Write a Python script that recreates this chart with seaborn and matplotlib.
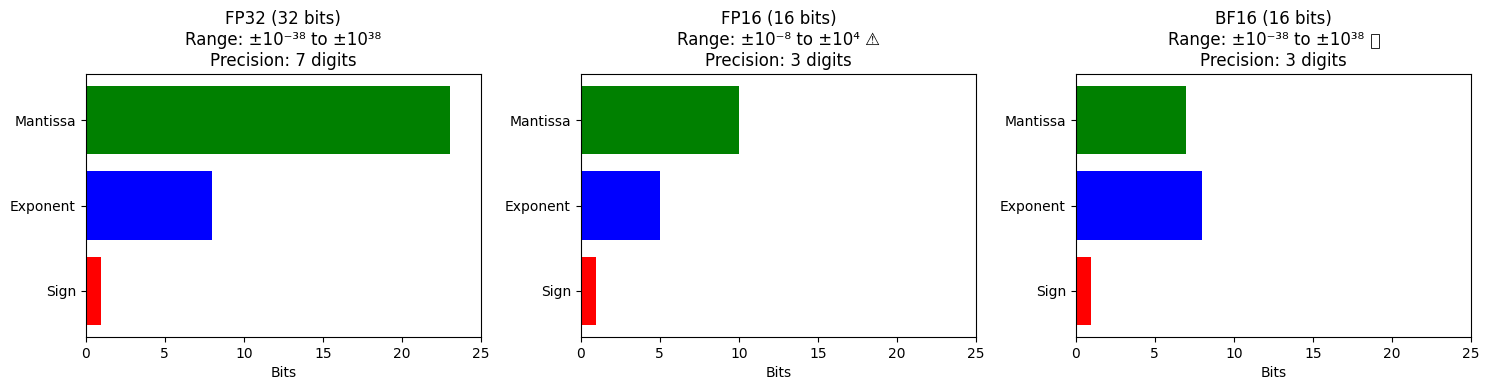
import matplotlib
matplotlib.use('Agg')
import matplotlib.pyplot as plt
from matplotlib.patches import Rectangle
import pandas as pd
import seaborn as sns

components = ['Sign', 'Exponent', 'Mantissa']
colors = ['red', 'blue', 'green']
fp32_bits = [1, 8, 23]
fp16_bits = [1, 5, 10]
bf16_bits = [1, 8, 7]
# no installed font has the check mark of the original title and the reference shows
# an empty box there: the two spaces keep the room, the box is drawn below
titles = ['FP32 (32 bits)\nRange: ±10⁻³⁸ to ±10³⁸\nPrecision: 7 digits',
          'FP16 (16 bits)\nRange: ±10⁻⁸ to ±10⁴ ⚠\nPrecision: 3 digits',
          'BF16 (16 bits)\nRange: ±10⁻³⁸ to ±10³⁸ \u2002\u200a\nPrecision: 3 digits']

fig, axes = plt.subplots(1, 3, figsize=(14.9, 3.9))

for ax, bits, title in zip(axes, [fp32_bits, fp16_bits, bf16_bits], titles):
    df = pd.DataFrame({'component': components, 'bits': bits})
    sns.barplot(data=df, x='bits', y='component', hue='component', palette=colors,
                order=components, hue_order=components, dodge=False,
                legend=False, width=0.8, saturation=1, ax=ax)
    ax.set_xlim(0, 25)
    ax.set_ylim(-0.54, 2.54)  # also undoes seaborn's flipped y axis
    ax.set_xlabel('Bits')
    ax.set_ylabel('')
    ax.set_title(title)

fig.subplots_adjust(left=85.6/1490, right=1471.2/1490, top=1-74/390, bottom=1-337/390, wspace=99.4/395.6)
fig.add_artist(Rectangle((1371/1490, 1-47.5/390), 7.5/1490, 13.5/390, transform=fig.transFigure,
                         fill=False, edgecolor='black', linewidth=0.6))
fig.savefig('out.png', dpi=100)
